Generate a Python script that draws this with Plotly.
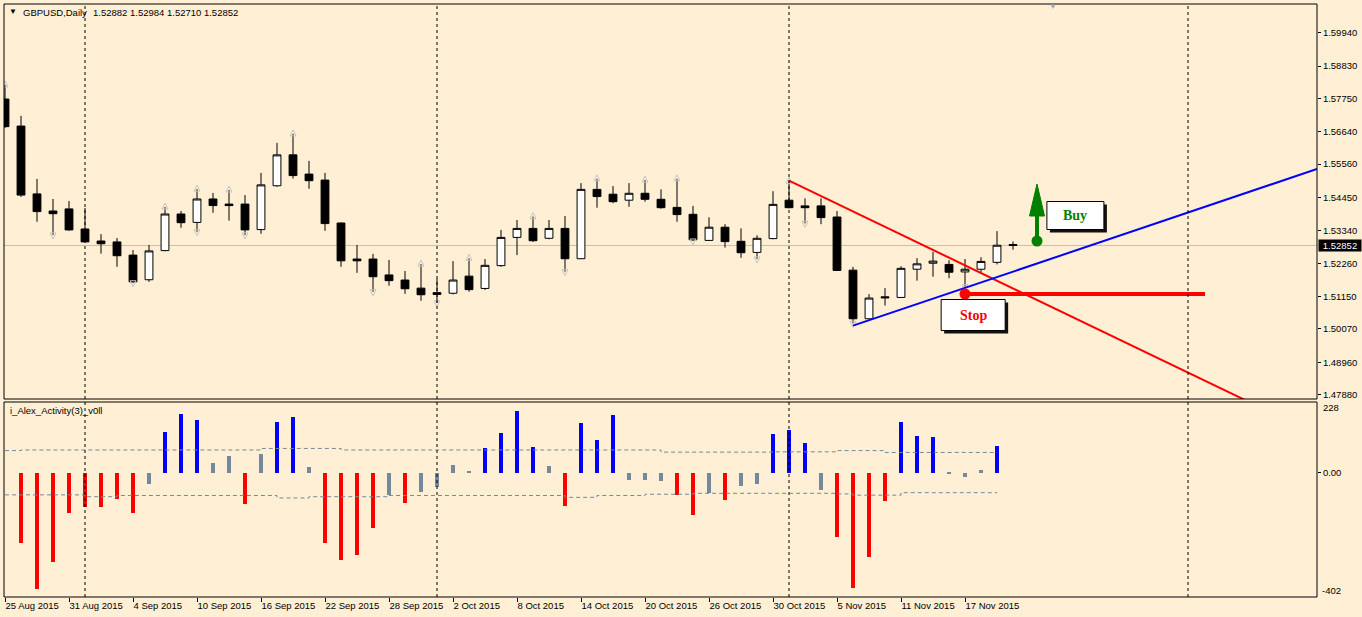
import plotly.graph_objects as go

# ---------------- data ----------------
bar_index = list(range(64))
tick_pos = [0, 4, 8, 12, 16, 20, 24, 28, 32, 36, 40, 44, 48, 52, 56, 60]
tick_labels = ["25 Aug 2015", "31 Aug 2015", "4 Sep 2015", "10 Sep 2015", "16 Sep 2015",
               "22 Sep 2015", "28 Sep 2015", "2 Oct 2015", "8 Oct 2015", "14 Oct 2015",
               "20 Oct 2015", "26 Oct 2015", "30 Oct 2015", "5 Nov 2015", "11 Nov 2015",
               "17 Nov 2015"]

opens = [1.5773, 1.5683, 1.5457, 1.5400, 1.5407, 1.5340, 1.5300, 1.5297, 1.5253, 1.5171,
         1.5268, 1.5390, 1.5362, 1.5440, 1.5423, 1.5423, 1.5338, 1.5484, 1.5587, 1.5523,
         1.5503, 1.5360, 1.5240, 1.5240, 1.5187, 1.5170, 1.5143, 1.5128, 1.5126, 1.5183,
         1.5142, 1.5218, 1.5312, 1.5342, 1.5309, 1.5342, 1.5241, 1.5472, 1.5456, 1.5436,
         1.5459, 1.5439, 1.5412, 1.5389, 1.5302, 1.5346, 1.5299, 1.5262, 1.5308, 1.5436,
         1.5417, 1.5417, 1.5380, 1.5203, 1.5041, 1.5114, 1.5112, 1.5206, 1.5226, 1.5222,
         1.5197, 1.5206, 1.5229, 1.52882]
highs = [1.5820, 1.5717, 1.5507, 1.5440, 1.5433, 1.5410, 1.5323, 1.5310, 1.5270, 1.5287,
         1.5413, 1.5400, 1.5473, 1.5460, 1.5470, 1.5453, 1.5527, 1.5627, 1.5657, 1.5567,
         1.5527, 1.5362, 1.5287, 1.5257, 1.5237, 1.5200, 1.5223, 1.5174, 1.5233, 1.5242,
         1.5240, 1.5337, 1.5370, 1.5381, 1.5370, 1.5383, 1.5493, 1.5507, 1.5483, 1.5493,
         1.5503, 1.5472, 1.5507, 1.5417, 1.5379, 1.5356, 1.5342, 1.5319, 1.5466, 1.5499,
         1.5442, 1.5442, 1.5400, 1.5214, 1.5123, 1.5143, 1.5216, 1.5243, 1.5264, 1.5236,
         1.5240, 1.5246, 1.5333, 1.52984]
lows = [1.5677, 1.5447, 1.5364, 1.5320, 1.5334, 1.5296, 1.5258, 1.5214, 1.5161, 1.5164,
        1.5266, 1.5344, 1.5331, 1.5394, 1.5368, 1.5320, 1.5324, 1.5481, 1.5508, 1.5474,
        1.5334, 1.5214, 1.5194, 1.5131, 1.5151, 1.5124, 1.5101, 1.5094, 1.5122, 1.5131,
        1.5137, 1.5214, 1.5253, 1.5297, 1.5306, 1.5198, 1.5240, 1.5411, 1.5426, 1.5414,
        1.5431, 1.5408, 1.5364, 1.5300, 1.5301, 1.5278, 1.5244, 1.5240, 1.5306, 1.5409,
        1.5359, 1.5356, 1.5200, 1.5026, 1.5040, 1.5085, 1.5112, 1.5168, 1.5181, 1.5176,
        1.5148, 1.5191, 1.5222, 1.52710]
closes = [1.5681, 1.5453, 1.5398, 1.5391, 1.5337, 1.5297, 1.5291, 1.5251, 1.5164, 1.5267,
          1.5390, 1.5361, 1.5440, 1.5418, 1.5418, 1.5337, 1.5487, 1.5587, 1.5518, 1.5501,
          1.5358, 1.5234, 1.5234, 1.5181, 1.5168, 1.5141, 1.5121, 1.5122, 1.5170, 1.5138,
          1.5219, 1.5312, 1.5342, 1.5301, 1.5342, 1.5241, 1.5472, 1.5448, 1.5431, 1.5459,
          1.5439, 1.5411, 1.5388, 1.5304, 1.5346, 1.5298, 1.5261, 1.5309, 1.5422, 1.5411,
          1.5411, 1.5378, 1.5202, 1.5041, 1.5110, 1.5111, 1.5209, 1.5224, 1.5233, 1.5196,
          1.5206, 1.5232, 1.5286, 1.52852]

fractal_up = [0, 10, 12, 14, 18, 26, 29, 33, 37, 40, 42, 49]
fractal_down = [3, 8, 12, 15, 23, 27, 35, 43, 47, 50, 53, 60]

price_ticks = [1.59940, 1.58830, 1.57750, 1.56640, 1.55560, 1.54450, 1.53340,
               1.52260, 1.51150, 1.50070, 1.48960, 1.47880]

# indicator i_Alex_Activity(3)_v0ll (bars 1..62)
activity_x = list(range(1, 63))
activity = [-226, -375, -290, -129, -110, -110, -86, -132, -36, 131,
            189, 171, 31, 53, -103, 60, 164, 180, 19, -226,
            -284, -265, -178, -72, -97, -62, -45, 24, 2, 80,
            128, 200, 83, 22, -108, 160, 106, 186, -23, -23,
            -27, -74, -137, -66, -88, -43, -37, 125, 138, 96,
            -56, -208, -373, -273, -92, 164, 118, 115, -2, -13,
            9, 86]
level_x = list(range(0, 63))
level_upper = [71] + [73] * 15 + [78] * 5 + [73] * 20 + [66] * 7 + [67] * 4 + [71] * 3 + [65] * 8
level_lower = ([-72] * 5 + [-78] * 2 + [-74] * 10 + [-82] * 2 + [-78] * 5 + [-74] * 11
               + [-80] * 2 + [-74] * 3 + [-70] * 3 + [-67] * 9 + [-69] + [-73] * 3 + [-65] * 7)

# chart objects (bar index, price)
red_trend_x = [49, 60]
red_trend_y = [1.5501, 1.5219]
blue_trend_x = [53, 62]
blue_trend_y = [1.5018, 1.5180]
stop_x = [60, 75]
stop_price = 1.51235
buy_point = (64.5, 1.5300)
buy_label = (66.9, 1.5385)
stop_label = (60.51, 1.50535)
separators = [5, 27, 49, 73.94]

# ---------------- layout geometry ----------------
W, H = 1362, 617
L, R, T, B = 4, 1317, 4, 597
X_RANGE = [-0.0625, 82.0]
Y_MAIN = [1.477367, 1.608961]
Y_IND = [-402, 228]
BG = "#FFEFD5"
FONT = "Liberation Sans"


def px_x(px):
    return (px - L) / (R - L)


def px_y(py):
    return (B - py) / (B - T)


main_dom = [px_y(399), 1.0]
ind_dom = [0.0, px_y(402)]
ppx = (Y_MAIN[1] - Y_MAIN[0]) / (399 - 4)   # price per pixel

fig = go.Figure()

fig.add_trace(go.Candlestick(
    x=bar_index, open=opens, high=highs, low=lows, close=closes,
    increasing=dict(line=dict(color="black", width=1), fillcolor="white"),
    decreasing=dict(line=dict(color="black", width=1), fillcolor="black"),
    whiskerwidth=0, xaxis="x", yaxis="y", showlegend=False, hoverinfo="skip"))

# fractal arrows
fig.add_trace(go.Scatter(
    x=fractal_up, y=[highs[i] + 4 * ppx for i in fractal_up], mode="markers",
    marker=dict(symbol="arrow-up-open", size=6, color="#C4C4C4", line=dict(width=1, color="#C4C4C4")),
    xaxis="x", yaxis="y", showlegend=False, hoverinfo="skip"))
fig.add_trace(go.Scatter(
    x=fractal_down, y=[lows[i] - 4 * ppx for i in fractal_down], mode="markers",
    marker=dict(symbol="arrow-down-open", size=6, color="#C4C4C4", line=dict(width=1, color="#C4C4C4")),
    xaxis="x", yaxis="y", showlegend=False, hoverinfo="skip"))

# trend lines (rays)
def ray(xs, ys, x_end):
    slope = (ys[1] - ys[0]) / (xs[1] - xs[0])
    return [xs[0], x_end], [ys[0], ys[0] + slope * (x_end - xs[0])]

rx, ry = ray(red_trend_x, red_trend_y, X_RANGE[1])
fig.add_trace(go.Scatter(x=rx, y=ry, mode="lines", line=dict(color="#FF0000", width=2),
                         xaxis="x", yaxis="y", showlegend=False, hoverinfo="skip"))
bx, by = ray(blue_trend_x, blue_trend_y, X_RANGE[1])
fig.add_trace(go.Scatter(x=bx, y=by, mode="lines", line=dict(color="#0000FF", width=2),
                         xaxis="x", yaxis="y", showlegend=False, hoverinfo="skip"))

# stop line + dot
fig.add_trace(go.Scatter(x=stop_x, y=[stop_price, stop_price], mode="lines",
                         line=dict(color="#FF0000", width=4),
                         xaxis="x", yaxis="y", showlegend=False, hoverinfo="skip"))
fig.add_trace(go.Scatter(x=[stop_x[0]], y=[stop_price], mode="markers",
                         marker=dict(color="#FF0000", size=11),
                         xaxis="x", yaxis="y", showlegend=False, hoverinfo="skip"))
# buy dot
fig.add_trace(go.Scatter(x=[buy_point[0]], y=[buy_point[1]], mode="markers",
                         marker=dict(color="#008000", size=11),
                         xaxis="x", yaxis="y", showlegend=False, hoverinfo="skip"))

# indicator
colors = []
for v, up, lo in zip(activity, level_upper[1:], level_lower[1:]):
    colors.append("#0000FF" if v > up else ("#FF0000" if v < lo else "#778899"))
fig.add_trace(go.Bar(x=activity_x, y=activity, width=0.19, marker=dict(color=colors, line=dict(width=0)),
                     xaxis="x", yaxis="y2", showlegend=False, hoverinfo="skip"))
for lev in (level_upper, level_lower):
    fig.add_trace(go.Scatter(x=level_x, y=lev, mode="lines",
                             line=dict(color="#778899", width=1, dash="4px,3px", shape="hv"),
                             xaxis="x", yaxis="y2", showlegend=False, hoverinfo="skip"))

shapes = []
# bid line
shapes.append(dict(type="line", xref="paper", x0=0, x1=1, yref="y", y0=closes[-1], y1=closes[-1],
                   line=dict(color="#C0C0C0", width=1), layer="below"))
# period separators
for s in separators:
    shapes.append(dict(type="line", xref="x", x0=s, x1=s, yref="paper", y0=0, y1=1,
                       line=dict(color="black", width=1, dash="3px,3px"), layer="above"))
# pane borders
for dom in (main_dom, ind_dom):
    shapes.append(dict(type="rect", xref="paper", x0=0, x1=1, yref="paper", y0=dom[0], y1=dom[1],
                       line=dict(color="black", width=1), fillcolor="rgba(0,0,0,0)"))

# green arrow (pixel sized, anchored to buy point)
shapes.append(dict(type="line", xref="x", yref="y", xsizemode="pixel", ysizemode="pixel",
                   xanchor=buy_point[0], yanchor=buy_point[1], x0=0, x1=0, y0=0, y1=27,
                   line=dict(color="#008000", width=4)))
shapes.append(dict(type="path", xref="x", yref="y", xsizemode="pixel", ysizemode="pixel",
                   xanchor=buy_point[0], yanchor=buy_point[1],
                   path="M -7.5 25 L 7.5 25 L 0 57 Z", fillcolor="#008000",
                   line=dict(color="#008000", width=1)))

# label boxes with shadow
def box(anchor, w, h):
    out = []
    out.append(dict(type="rect", xref="x", yref="y", xsizemode="pixel", ysizemode="pixel",
                    xanchor=anchor[0], yanchor=anchor[1],
                    x0=-w / 2 + 3, x1=w / 2 + 3, y0=-h / 2 - 3, y1=h / 2 - 3,
                    fillcolor="#111111", line=dict(width=0)))
    out.append(dict(type="rect", xref="x", yref="y", xsizemode="pixel", ysizemode="pixel",
                    xanchor=anchor[0], yanchor=anchor[1],
                    x0=-w / 2, x1=w / 2, y0=-h / 2, y1=h / 2,
                    fillcolor="white", line=dict(color="black", width=1)))
    return out

shapes += box(buy_label, 57, 28)
shapes += box(stop_label, 64, 31)

annotations = []
annotations.append(dict(text="<b>Buy</b>", x=buy_label[0], y=buy_label[1], xref="x", yref="y",
                        showarrow=False, font=dict(family="Liberation Serif", size=14, color="#008000"),
                        xanchor="center", yanchor="middle"))
annotations.append(dict(text="<b>Stop</b>", x=stop_label[0], y=stop_label[1], xref="x", yref="y",
                        showarrow=False, font=dict(family="Liberation Serif", size=14, color="#FF0000"),
                        xanchor="center", yanchor="middle"))
# header
annotations.append(dict(text="▼", x=px_x(7), y=px_y(12), xref="paper", yref="paper",
                        showarrow=False, font=dict(family=FONT, size=8, color="black"),
                        xanchor="left", yanchor="middle"))
annotations.append(dict(text="GBPUSD,Daily", x=px_x(20.5), y=px_y(13), xref="paper", yref="paper",
                        showarrow=False, font=dict(family=FONT, size=9.5, color="black"),
                        xanchor="left", yanchor="middle"))
annotations.append(dict(text="%.5f %.5f %.5f %.5f" % (opens[-1], highs[-1], lows[-1], closes[-1]),
                        x=px_x(90.5), y=px_y(13), xref="paper", yref="paper",
                        showarrow=False, font=dict(family=FONT, size=9.5, color="black"),
                        xanchor="left", yanchor="middle"))
annotations.append(dict(text="i_Alex_Activity(3)_v0ll", x=px_x(8), y=px_y(411), xref="paper", yref="paper",
                        showarrow=False, font=dict(family=FONT, size=9.5, color="black"),
                        xanchor="left", yanchor="middle"))
# chart shift marker
annotations.append(dict(text="▼", x=px_x(1053), y=px_y(6), xref="paper", yref="paper",
                        showarrow=False, font=dict(family=FONT, size=8, color="#A8A8A8"),
                        xanchor="center", yanchor="middle"))
# current price box
annotations.append(dict(text="%.5f" % closes[-1], x=px_x(1318), y=closes[-1], xref="paper", yref="y",
                        showarrow=False, font=dict(family=FONT, size=9.5, color="white"),
                        bgcolor="black", xanchor="left", yanchor="middle", borderpad=0,
                        width=42, height=11, align="center"))
# indicator extreme labels
annotations.append(dict(text="228", x=px_x(1321), y=px_y(407.5), xref="paper", yref="paper",
                        showarrow=False, font=dict(family=FONT, size=9.5, color="black"),
                        xanchor="left", yanchor="middle"))
annotations.append(dict(text="-402", x=px_x(1320), y=px_y(590.5), xref="paper", yref="paper",
                        showarrow=False, font=dict(family=FONT, size=9.5, color="black"),
                        xanchor="left", yanchor="middle"))

fig.update_layout(
    width=W, height=H,
    margin=dict(l=L, r=W - R, t=T, b=H - B, pad=0),
    paper_bgcolor=BG, plot_bgcolor=BG,
    showlegend=False, bargap=0,
    xaxis=dict(domain=[0, 1], anchor="y2", range=X_RANGE, showgrid=False, zeroline=False,
               tickmode="array", tickvals=tick_pos, ticktext=tick_labels,
               ticks="outside", ticklen=4, tickcolor="black", ticklabelposition="outside right",
               tickfont=dict(family=FONT, size=9.5, color="black"),
               rangeslider=dict(visible=False), showline=False, fixedrange=True),
    yaxis=dict(domain=main_dom, anchor="x", side="right", range=Y_MAIN, showgrid=False,
               zeroline=False, tickmode="array", tickvals=price_ticks,
               ticktext=["%.5f" % p for p in price_ticks],
               ticks="outside", ticklen=3, tickcolor="black",
               tickfont=dict(family=FONT, size=9.5, color="black"), fixedrange=True),
    yaxis2=dict(domain=ind_dom, anchor="x", side="right", range=Y_IND, showgrid=False,
                zeroline=False, tickmode="array", tickvals=[0], ticktext=["0.00"],
                ticks="outside", ticklen=3, tickcolor="black",
                tickfont=dict(family=FONT, size=9.5, color="black"), fixedrange=True),
    shapes=shapes, annotations=annotations,
)

fig.write_html("out.html")
